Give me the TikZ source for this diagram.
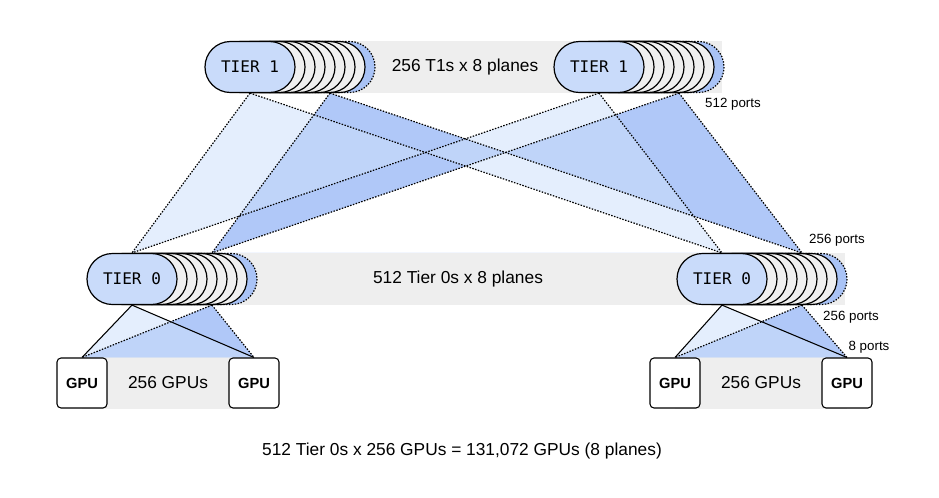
\documentclass[tikz,border=0pt]{standalone}
\usepackage{fontspec}
\setmainfont{Liberation Sans}
\newfontfamily\tiermono{DejaVu Sans Mono}
\usetikzlibrary{backgrounds}
\definecolor{bandgray}{HTML}{EEEEEE}
\definecolor{pillblue}{HTML}{C9DBFA}
\definecolor{backblue}{HTML}{A9C3F6}
\definecolor{planegray}{HTML}{F0F0F0}
\definecolor{medblue}{HTML}{B0C8F8}
\definecolor{lightblue}{HTML}{CDE0FB}

\begin{document}
\begin{tikzpicture}[x=0.75pt, y=-0.75pt]
        \useasboundingbox (0,0) rectangle (939,497);
        %
        \tikzset{pill/.style={rounded corners=19.1pt, minimum width=67.5pt, minimum height=38.25pt, inner sep=0pt},
                 frontpill/.style={pill, draw, line width=0.9pt, fill=pillblue, font=\tiermono\fontsize{12}{14}\selectfont},
                 planepill/.style={pill, draw, line width=0.9pt, fill=planegray},
                 backpill/.style={pill, draw, line width=0.9pt, dash pattern=on 1.1pt off 1.1pt, fill=backblue},
                 gpubox/.style={draw, line width=0.8pt, fill=white, rounded corners=3pt, minimum size=37.5pt, inner sep=0pt, font=\bfseries\fontsize{11}{13}\selectfont},
                 planelink/.style={line width=0.9pt, dash pattern=on 1.1pt off 1.1pt},
                 gpulink/.style={line width=0.8pt},
                 bandlbl/.style={font=\fontsize{13}{15}\selectfont},
                 portlbl/.style={font=\fontsize{10}{12}\selectfont}}
        %
        \foreach \nm/\cx/\cy/\lv in {t1l/250/67/1, t1r/599/67/1, t0l/132/279/0, t0r/722/279/0}{
            \draw (\cx+80,\cy) node[backpill](\nm-b){};
            \foreach \i in {7,...,1}
                \draw (\cx+10*\i,\cy) node[planepill](\nm-\i){};
            \draw (\cx,\cy) node[frontpill](\nm-f){TIER \lv};
        }
        %
        \draw (82,383) node[gpubox](g1){GPU};
        \draw (254,383) node[gpubox](g2){GPU};
        \draw (675,383) node[gpubox](g3){GPU};
        \draw (847,383) node[gpubox](g4){GPU};
        %
        \draw (465,67) node[bandlbl](t1lbl){256 T1s x 8 planes};
        \draw (458,279) node[bandlbl](t0lbl){512 Tier 0s x 8 planes};
        \draw (168,383) node[bandlbl](gpulbl1){256 GPUs};
        \draw (761,383) node[bandlbl](gpulbl2){256 GPUs};
        \draw (733,104) node[portlbl](ports1){512 ports};
        \draw (837,240) node[portlbl](ports2){256 ports};
        \draw (851,317) node[portlbl](ports3){256 ports};
        \draw (869,347) node[portlbl](ports4){8 ports};
        \draw (462,451) node[bandlbl](total){512 Tier 0s x 256 GPUs = 131,072 GPUs (8 planes)};
        %
        \begin{pgfonlayer}{background}
            \fill[bandgray] (t1l-f.north) rectangle ([xshift=-2pt]t1r-b.south east);
            \fill[bandgray] (t0l-f.north) rectangle ([xshift=-2pt]t0r-b.south east);
            \fill[bandgray] (g1.north) rectangle (g2.south);
            \fill[bandgray] (g3.north) rectangle (g4.south);
            %
            \fill[medblue, even odd rule] (t1l-b.south) -- (t0l-b.north) -- (t0r-b.north) -- cycle
                                          (t1r-b.south) -- (t0l-b.north) -- (t0r-b.north) -- cycle;
            \fill[lightblue, fill opacity=0.54, even odd rule] (t1l-f.south) -- (t0l-f.north) -- (t0r-f.north) -- cycle
                                          (t1r-f.south) -- (t0l-f.north) -- (t0r-f.north) -- cycle;
            \fill[medblue] (t0l-b.south) -- (g1.north) -- (g2.north) -- cycle;
            \fill[medblue] (t0r-b.south) -- (g3.north) -- (g4.north) -- cycle;
            \fill[lightblue, fill opacity=0.54] (t0l-f.south) -- (g1.north) -- (g2.north) -- cycle;
            \fill[lightblue, fill opacity=0.54] (t0r-f.south) -- (g3.north) -- (g4.north) -- cycle;
            %
            \draw[planelink] (t1l-f.south) -- (t0l-f.north);
            \draw[planelink] (t1l-f.south) -- (t0r-f.north);
            \draw[planelink] (t1r-f.south) -- (t0l-f.north);
            \draw[planelink] (t1r-f.south) -- (t0r-f.north);
            \draw[planelink] (t1l-b.south) -- (t0l-b.north);
            \draw[planelink] (t1l-b.south) -- (t0r-b.north);
            \draw[planelink] (t1r-b.south) -- (t0l-b.north);
            \draw[planelink] (t1r-b.south) -- (t0r-b.north);
            %
            \draw[gpulink] (t0l-f.south) -- (g1.north);
            \draw[gpulink] (t0l-f.south) -- (g2.north);
            \draw[gpulink] (t0r-f.south) -- (g3.north);
            \draw[gpulink] (t0r-f.south) -- (g4.north);
            \draw[planelink] (t0l-b.south) -- (g1.north);
            \draw[planelink] (t0l-b.south) -- (g2.north);
            \draw[planelink] (t0r-b.south) -- (g3.north);
            \draw[planelink] (t0r-b.south) -- (g4.north);
        \end{pgfonlayer}
\end{tikzpicture}
\end{document}
